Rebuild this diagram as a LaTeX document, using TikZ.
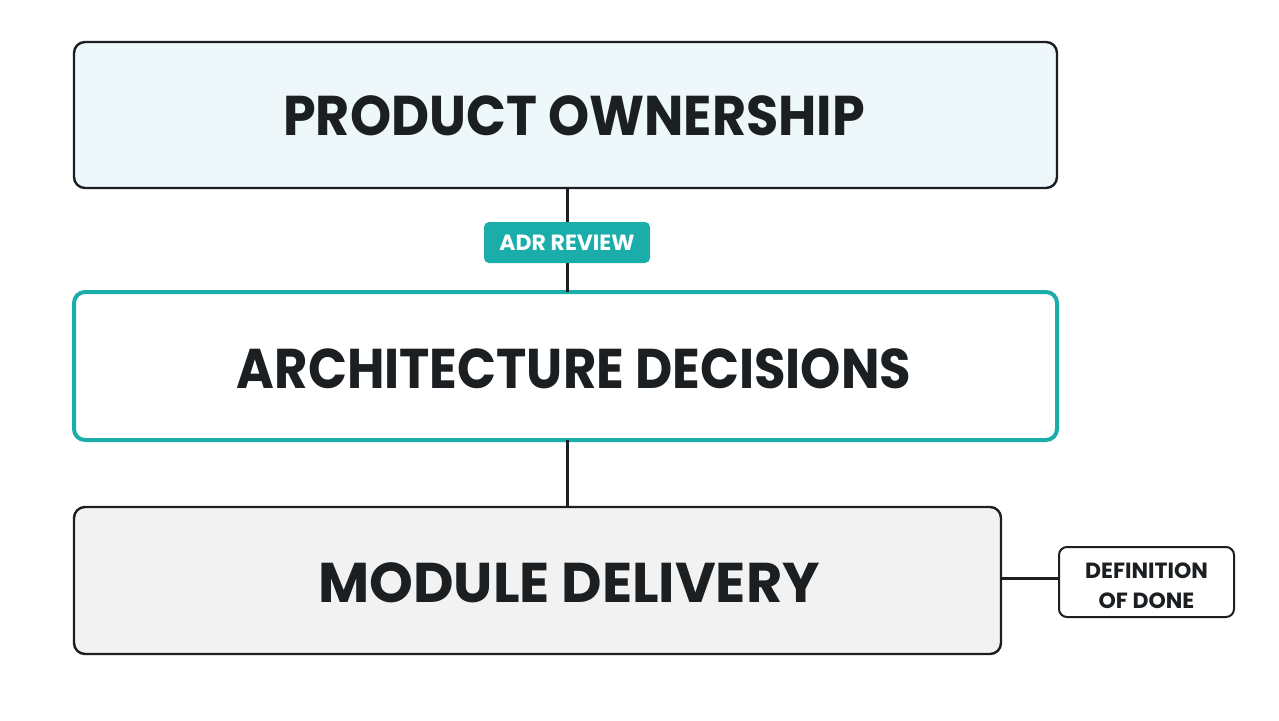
\documentclass[tikz,border=0pt]{standalone}
\usepackage{fontspec}
\setmainfont{Poppins}
\definecolor{ink}{HTML}{1C1F22}
\definecolor{teal}{HTML}{1BADA9}
\definecolor{paleblue}{HTML}{EEF7FA}
\definecolor{palegray}{HTML}{F2F2F2}
\tikzset{
  layer/.style={draw=ink, line width=2.4pt, rounded corners=11pt, anchor=center, inner sep=0pt},
  layertext/.style={inner sep=0pt, text=ink, font=\bfseries\fontsize{56}{60}\selectfont},
  tag/.style={fill=teal, rounded corners=5pt, inner sep=0pt, text=white,
    font=\bfseries\fontsize{22}{24}\selectfont},
  note/.style={draw=ink, line width=2pt, fill=white, rounded corners=8pt, inner sep=0pt},
  notetext/.style={inner sep=0pt, text=ink, align=center, font=\bfseries\fontsize{22}{30}\selectfont},
  link/.style={draw=ink, line width=3pt},
}
\begin{document}
\begin{tikzpicture}[x=1pt,y=-1pt]
\useasboundingbox[fill=white] (0,0) rectangle (1279,720);
\node[layer, fill=paleblue, minimum width=983pt, minimum height=146pt] (po) at (565.5,115) {};
\node[layertext] (potext) at (574,116) {\scalebox{0.935}[1]{PRODUCT OWNERSHIP}};
\node[layer, draw=teal, line width=4pt, fill=white, minimum width=983pt, minimum height=148pt] (ad) at (565.5,366) {};
\node[layertext] (adtext) at (574,369) {\scalebox{0.915}[1]{ARCHITECTURE DECISIONS}};
\node[layer, fill=palegray, minimum width=927pt, minimum height=147pt] (md) at (537.5,580.5) {};
\node[layertext] (mdtext) at (569,583) {\scalebox{0.995}[1]{MODULE DELIVERY}};
\coordinate (potop) at (567,188);
\coordinate (adtop) at (567,292);
\coordinate (adbot) at (567,440);
\coordinate (mdtop) at (567,507);
\draw[link] (potop) -- (adtop);
\draw[link] (adbot) -- (mdtop);
\node[tag, minimum width=166pt, minimum height=41pt] (adr) at (567,242.5) {ADR REVIEW};
\node[note, minimum width=175pt, minimum height=70pt] (dod) at (1146.5,582) {};
\node[notetext] (dodtext) at (1146.5,586) {DEFINITION\\OF DONE};
\draw[link] (md.east |- 0,578) -- (dod.west |- 0,578);
\end{tikzpicture}
\end{document}
